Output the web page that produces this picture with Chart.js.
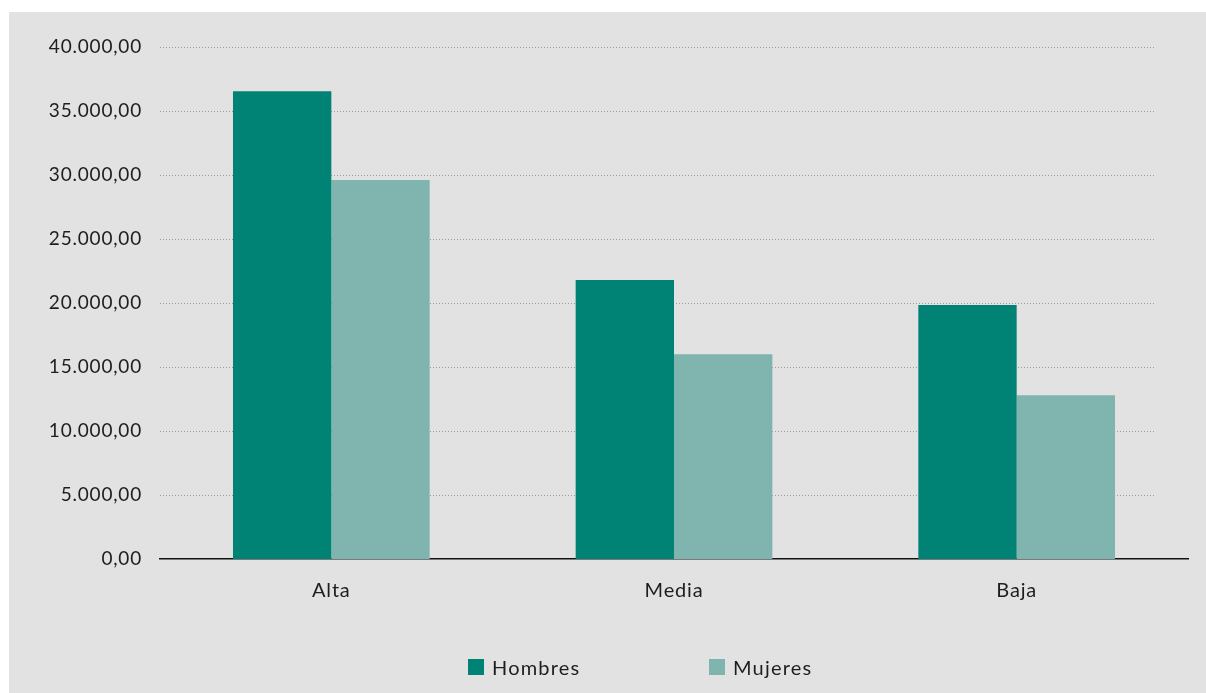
<!DOCTYPE html>
<html>
<head>
<meta charset="utf-8">
<script src="https://cdn.jsdelivr.net/npm/chart.js@4.4.1/dist/chart.umd.min.js"></script>
<style>
  body { margin: 0; background: #ffffff; }
  .panel { position: absolute; left: 9px; top: 12px; width: 1197px; height: 681px; background: #e2e2e2; }
  .panel canvas { position: absolute; left: 0; top: 0; }
  .legend { font-family: 'Lato', sans-serif; font-size: 20px; color: #1e1e1e; letter-spacing: 1.2px; }
  .legend span.item { position: absolute; top: 643px; display: flex; align-items: center; height: 24px; }
  .legend i { display: inline-block; width: 16px; height: 16px; margin-right: 8px; }
</style>
</head>
<body>
<div class="panel">
  <canvas id="chart" width="1197" height="681"></canvas>
  <div class="legend" id="legend"></div>
</div>
<script>
const categories = ['Alta', 'Media', 'Baja'];
const hombres = [36540, 21800, 19840];
const mujeres = [29600, 16000, 12790];
const yTicks = [0, 5000, 10000, 15000, 20000, 25000, 30000, 35000, 40000];

const colorHombres = '#008375';
const colorMujeres = '#7fb5ae';

function fmt(v) {
    // 40000 -> "40.000,00"
    const s = Math.round(v).toString().replace(/\B(?=(\d{3})+(?!\d))/g, '.');
    return s + ',00';
}

// dotted grid lines that stop short of the axis end, like the original
const dottedGrid = {
    id: 'dottedGrid',
    beforeDatasetsDraw(chart) {
        const { ctx, chartArea, scales } = chart;
        ctx.save();
        ctx.strokeStyle = '#9c9c9c';
        ctx.lineWidth = 1;
        ctx.setLineDash([1, 2]);
        yTicks.forEach(v => {
            if (v === 0) return;
            const y = Math.round(scales.y.getPixelForValue(v)) + 0.5;
            ctx.beginPath();
            ctx.moveTo(chartArea.left, y);
            ctx.lineTo(chartArea.right - 32, y);
            ctx.stroke();
        });
        ctx.restore();
    }
};

const spacing = {
    id: 'spacing',
    beforeLayout(chart) { chart.ctx.letterSpacing = '0.8px'; },
    beforeDraw(chart) { chart.ctx.letterSpacing = '0.8px'; }
};

new Chart(document.getElementById('chart'), {
    type: 'bar',
    data: {
        labels: categories,
        datasets: [
            { label: 'Hombres', data: hombres, backgroundColor: colorHombres, barPercentage: 1, categoryPercentage: 0.574 },
            { label: 'Mujeres', data: mujeres, backgroundColor: colorMujeres, barPercentage: 1, categoryPercentage: 0.574 }
        ]
    },
    options: {
        responsive: false,
        animation: false,
        layout: { padding: { top: 35, right: 18, left: 0, bottom: 0 } },
        plugins: {
            legend: { display: false },
            tooltip: { enabled: false }
        },
        scales: {
            x: {
                grid: { display: false },
                border: { display: true, color: '#111', width: 1.5 },
                ticks: { color: '#1e1e1e', padding: 12, font: { family: 'Lato', size: 20 } },
                afterFit(scale) { scale.height = 134; }
            },
            y: {
                min: 0,
                max: 40000,
                afterBuildTicks(scale) { scale.ticks = yTicks.map(v => ({ value: v })); },
                grid: { display: false, drawTicks: false },
                border: { display: false },
                ticks: {
                    color: '#1e1e1e',
                    padding: 18,
                    font: { family: 'Lato', size: 19 },
                    callback: v => fmt(v)
                },
                afterFit(scale) { scale.width = 151; }
            }
        }
    },
    plugins: [dottedGrid, spacing]
});

// legend items sit right of centre in the original
const legendItems = [['Hombres', colorHombres, 459], ['Mujeres', colorMujeres, 700]];
document.getElementById('legend').innerHTML = legendItems
    .map(([t, c, x]) => `<span class="item" style="left:${x}px"><i style="background:${c}"></i>${t}</span>`).join('');
</script>
</body>
</html>
